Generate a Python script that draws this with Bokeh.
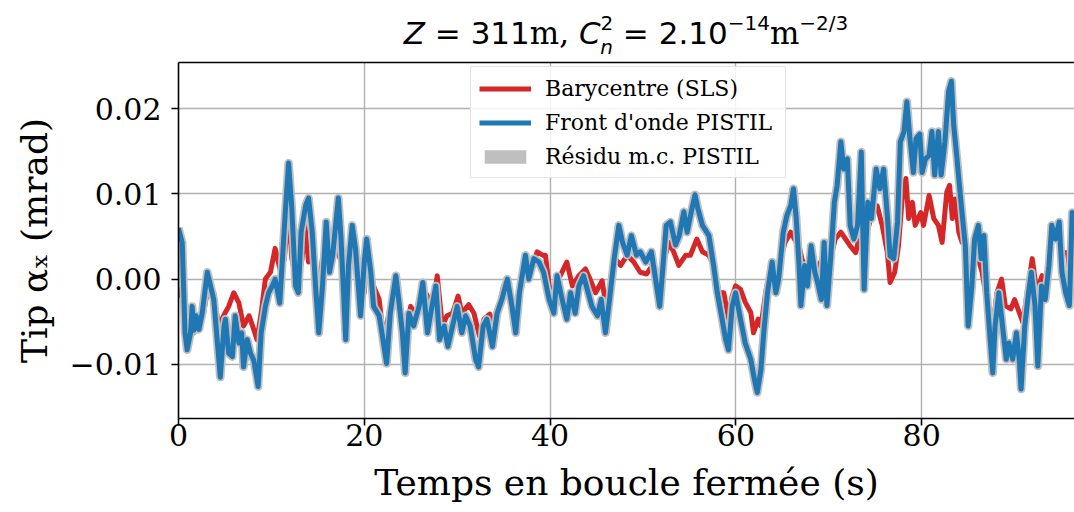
from bokeh.plotting import figure
from bokeh.models import (Range1d, FixedTicker, LinearAxis, Legend, LegendItem, Div,
                          ColumnDataSource, CustomJSTickFormatter)
from bokeh.layouts import column
from bokeh.embed import file_html
from bokeh.resources import INLINE

# ---------------- data ----------------
t_front = [0.0, 0.1, 0.4, 0.7, 0.93, 1.3, 1.47, 1.65, 1.9, 2.2, 2.55, 3.1, 3.45, 3.8, 4.16, 4.5,
           4.9, 5.05, 5.4, 5.8, 6.1, 6.5, 6.8, 7.0, 7.4, 7.75, 8.1, 8.57, 8.9, 9.35, 9.7, 10.1,
           10.4, 10.9, 11.15, 11.5, 11.85, 12.2, 12.6, 12.9, 13.2, 13.7, 14.0, 14.4, 14.75, 15.1,
           15.5, 15.9, 16.25, 16.6, 17.2, 17.5, 18.0, 18.3, 18.7, 19.05, 19.6, 20.0, 20.25, 20.7,
           21.0, 21.6, 21.9, 22.4, 22.8, 23.4, 23.7, 24.1, 24.4, 24.8, 25.3, 25.9, 26.3, 26.8,
           27.1, 27.7, 28.1, 28.6, 29.0, 29.5, 30.0, 30.5, 30.9, 31.4, 32.0, 32.3, 32.8, 33.2,
           33.8, 34.3, 34.8, 35.4, 35.9, 36.3, 36.7, 37.35, 37.7, 38.25, 38.8, 39.3, 39.9, 40.4,
           40.75, 41.3, 41.8, 42.2, 42.7, 43.1, 43.6, 44.1, 44.5, 45.1, 45.5, 45.96, 46.4, 46.9,
           47.4, 47.8, 48.3, 48.75, 49.3, 49.7, 50.3, 50.9, 51.3, 51.8, 52.1, 52.5, 52.95, 53.5,
           53.9, 54.4, 54.75, 55.2, 55.6, 55.9, 56.4, 57.1, 57.6, 58.0, 58.45, 58.9, 59.2, 59.6,
           59.96, 60.5, 61.0, 61.6, 62.0, 62.3, 62.7, 63.0, 63.4, 63.9, 64.3, 64.6, 65.1, 65.5,
           65.9, 66.2, 66.5, 66.8, 67.0, 67.4, 67.7, 68.1, 68.5, 68.8, 69.2, 69.5, 69.8, 70.2,
           70.6, 70.9, 71.3, 71.6, 72.0, 72.3, 72.7, 73.1, 73.5, 73.8, 74.2, 74.6, 75.1, 75.5,
           75.9, 76.3, 76.6, 77.0, 77.4, 77.7, 78.1, 78.4, 78.7, 79.1, 79.4, 79.8, 80.05, 80.4,
           80.8, 81.1, 81.4, 81.8, 82.1, 82.5, 82.9, 83.2, 83.45, 83.8, 84.2, 84.4, 84.7, 85.0,
           85.4, 85.7, 86.1, 86.4, 86.7, 87.0, 87.4, 87.65, 87.9, 88.3, 88.7, 89.1, 89.4, 89.8,
           90.2, 90.5, 90.7, 91.1, 91.5, 91.8, 92.2, 92.5, 92.9, 93.3, 93.7, 94.0, 94.4, 94.8,
           95.1, 95.5, 95.9, 96.2, 96.5]
front = [0.0060, 0.0055, 0.0043, -0.0063, -0.0083, -0.0063, -0.0032, -0.0060, -0.0043, -0.0059,
         -0.0040, 0.0008, -0.0008, -0.0024, -0.0071, -0.0115, -0.0055, -0.0047, -0.0087, -0.0091,
         -0.0043, -0.0075, -0.0063, -0.0103, -0.0071, -0.0087, -0.0095, -0.0126, -0.0063, -0.0032,
         -0.0016, -0.0008, 0.0000, -0.0028, 0.0016, 0.0079, 0.0136, 0.0083, -0.0008, -0.0016,
         0.0055, 0.0087, 0.0095, 0.0055, -0.0008, -0.0063, -0.0008, 0.0067, 0.0008, 0.0028,
         0.0095, 0.0047, -0.0071, 0.0016, 0.0063, 0.0036, -0.0043, 0.0020, 0.0047, 0.0008,
         -0.0032, -0.0043, -0.0063, -0.0099, -0.0040, 0.0004, -0.0024, -0.0063, -0.0110, -0.0040,
         -0.0055, -0.0032, -0.0004, -0.0063, -0.0043, -0.0008, -0.0071, -0.0055, -0.0079, -0.0055,
         -0.0032, -0.0063, -0.0043, -0.0055, -0.0095, -0.0103, -0.0055, -0.0047, -0.0079, -0.0040,
         -0.0024, 0.0000, -0.0032, -0.0063, -0.0016, 0.0028, 0.0000, 0.0024, 0.0020, 0.0008,
         -0.0024, -0.0040, 0.0004, -0.0024, -0.0047, -0.0016, -0.0040, -0.0008, 0.0004, -0.0016,
         -0.0032, -0.0043, -0.0024, -0.0063, -0.0024, 0.0024, 0.0063, 0.0043, 0.0028, 0.0051,
         0.0028, 0.0032, 0.0020, 0.0032, 0.0004, -0.0032, 0.0008, 0.0063, 0.0067, 0.0040,
         0.0051, 0.0079, 0.0055, 0.0079, 0.0099, 0.0083, 0.0063, 0.0051, 0.0016, -0.0016,
         -0.0043, -0.0071, -0.0083, -0.0032, -0.0016, -0.0047, -0.0075, -0.0094, -0.0118, -0.0133,
         -0.0106, -0.0063, -0.0016, 0.0020, -0.0016, 0.0000, 0.0055, 0.0075, 0.0086, 0.0106,
         0.0071, 0.0016, -0.0031, 0.0016, -0.0008, 0.0039, 0.0008, -0.0004, -0.0024, 0.0043,
         -0.0031, 0.0024, 0.0090, 0.0110, 0.0161, 0.0129, 0.0141, 0.0063, 0.0047, 0.0063,
         0.0149, -0.0012, 0.0090, 0.0071, 0.0129, 0.0106, 0.0129, 0.0075, 0.0027, 0.0024,
         0.0067, 0.0161, 0.0173, 0.0208, 0.0169, 0.0125, 0.0165, 0.0170, 0.0125, 0.0141,
         0.0145, 0.0173, 0.0122, 0.0173, 0.0122, 0.0161, 0.0220, 0.0232, 0.0180, 0.0141,
         0.0094, 0.0071, 0.0039, -0.0055, -0.0008, 0.0047, 0.0063, 0.0024, 0.0051, -0.0016,
         -0.0075, -0.0110, -0.0055, -0.0016, -0.0055, -0.0094, -0.0075, -0.0094, -0.0063, -0.0094,
         -0.0129, -0.0055, -0.0016, 0.0008, -0.0031, -0.0102, -0.0008, -0.0024, 0.0016, 0.0063,
         0.0047, 0.0067, 0.0008, -0.0016, -0.0031, 0.0078, 0.0071]

t_bary = [0.0, 0.3, 0.6, 0.9, 1.3, 1.65, 2.2, 2.7, 3.26, 3.8, 4.3, 5.0, 5.4, 5.95, 6.5, 7.0,
          7.6, 8.1, 8.45, 8.9, 9.35, 9.9, 10.4, 11.0, 11.4, 11.85, 12.2, 12.8, 13.3, 13.6, 14.0,
          14.4, 14.9, 15.5, 16.2, 16.8, 17.25, 18.0, 18.5, 19.05, 19.6, 20.0, 20.3, 21.0, 21.6,
          22.1, 22.6, 23.4, 23.9, 24.4, 25.0, 25.5, 26.2, 27.0, 27.4, 27.85, 28.4, 28.9, 29.5,
          30.1, 30.5, 31.25, 31.8, 32.4, 32.9, 33.5, 33.95, 34.5, 35.0, 35.7, 36.4, 36.8, 37.5,
          37.9, 38.6, 39.2, 39.5, 40.0, 40.5, 41.1, 41.8, 42.4, 43.1, 43.8, 44.3, 44.9, 45.6,
          45.96, 46.5, 47.0, 47.6, 48.3, 49.0, 49.7, 50.4, 51.0, 51.7, 52.2, 52.8, 53.3, 53.85,
          54.6, 55.1, 55.8, 56.4, 57.1, 57.6, 58.2, 58.7, 59.2, 59.6, 59.96, 60.5, 61.0, 61.6,
          61.9, 62.4, 62.7, 63.2, 63.7, 64.3, 64.8, 65.3, 65.9, 66.3, 66.8, 67.1, 67.7, 68.2,
          68.75, 69.3, 70.0, 70.7, 71.3, 71.8, 72.3, 72.9, 73.4, 73.95, 74.5, 75.2, 75.75, 76.3,
          76.6, 77.1, 77.5, 77.9, 78.3, 78.6, 79.0, 79.3, 79.9, 80.2, 80.8, 81.3, 81.8, 82.2,
          82.7, 83.0, 83.3, 83.6, 84.0, 84.35, 84.7, 85.1, 85.6, 86.2, 86.5, 87.0, 87.6, 88.1,
          88.6, 89.0, 89.6, 90.0, 90.5, 90.9, 91.35, 91.9, 92.4, 92.95, 93.5, 94.0, 94.7, 95.1,
          95.7, 96.2, 96.5]
bary = [-0.0010, -0.0020, -0.0024, -0.0040, -0.0032, -0.0063, -0.0055, -0.0040, -0.0004, -0.0016,
        -0.0055, -0.0040, -0.0032, -0.0016, -0.0028, -0.0055, -0.0043, -0.0059, -0.0071, -0.0040,
        0.0000, 0.0008, 0.0036, 0.0008, 0.0024, 0.0083, 0.0024, -0.0008, 0.0024, 0.0063, 0.0020,
        0.0047, -0.0024, 0.0024, 0.0032, 0.0036, 0.0028, 0.0008, 0.0016, 0.0016, -0.0008,
        -0.0016, 0.0036, -0.0008, -0.0024, -0.0071, -0.0043, 0.0000, -0.0040, -0.0063, -0.0032,
        -0.0043, -0.0008, -0.0024, -0.0032, 0.0004, -0.0055, -0.0043, -0.0040, -0.0020, -0.0040,
        -0.0030, -0.0040, -0.0067, -0.0047, -0.0041, -0.0055, -0.0032, -0.0008, -0.0016, -0.0040,
        -0.0016, 0.0016, 0.0008, 0.0032, 0.0028, 0.0028, -0.0016, -0.0008, 0.0004, 0.0020,
        -0.0008, 0.0004, 0.0012, 0.0000, -0.0016, -0.0002, -0.0028, -0.0008, 0.0024, 0.0016,
        0.0028, 0.0020, 0.0008, 0.0006, 0.0016, -0.0008, 0.0020, 0.0043, 0.0032, 0.0016,
        0.0028, 0.0028, 0.0047, 0.0032, 0.0028, 0.0016, -0.0016, -0.0016, -0.0047, -0.0020,
        -0.0008, -0.0012, -0.0027, -0.0039, -0.0063, -0.0047, -0.0055, -0.0016, 0.0012, 0.0008,
        0.0024, 0.0043, 0.0055, 0.0047, 0.0039, 0.0024, 0.0008, 0.0016, 0.0012, 0.0024,
        0.0016, 0.0047, 0.0055, 0.0047, 0.0039, 0.0031, 0.0055, 0.0047, 0.0071, 0.0086,
        0.0063, 0.0031, -0.0004, 0.0008, 0.0039, 0.0094, 0.0118, 0.0071, 0.0090, 0.0063,
        0.0078, 0.0063, 0.0098, 0.0071, 0.0063, 0.0043, 0.0102, 0.0110, 0.0071, 0.0094,
        0.0055, 0.0043, 0.0047, -0.0008, 0.0031, 0.0020, 0.0008, -0.0024, -0.0063, -0.0016,
        0.0000, -0.0031, -0.0035, -0.0024, -0.0039, -0.0051, -0.0016, 0.0024, -0.0016, 0.0004,
        -0.0008, 0.0055, 0.0067, 0.0031, 0.0031, -0.0016, 0.0016]

x_ticks = [0, 20, 40, 60, 80]
y_ticks = [-0.01, 0.0, 0.01, 0.02]
y_tick_labels = ["\u22120.01", "0.00", "0.01", "0.02"]
series_names = ["Barycentre (SLS)", "Front d'onde PISTIL", "R\u00e9sidu m.c. PISTIL"]
x_label = "Temps en boucle ferm\u00e9e (s)"
y_label = "Tip \u03b1\u2093 (mrad)"

# ---------------- styling ----------------
RED = "#d62728"
BLUE = "#1f77b4"
GREY = "#bfbfbf"
SERIF = "DejaVu Serif"
SANS = "DejaVu Sans"

# title (HTML, with italics, sub- and superscripts)
sup = "font-size:20px;vertical-align:14px;line-height:0;"
sub = "font-size:20px;vertical-align:-10px;line-height:0;margin-left:-13px;"
serif_span = "font-family:'DejaVu Serif';"
title_html = (
    '<div style="width:896px;margin-left:178px;padding-top:15px;text-align:center;'
    "font-family:'DejaVu Sans';font-size:31px;line-height:36px;color:black;white-space:nowrap;\">"
    '<i>Z</i> = 311<span style="' + serif_span + '">m,</span> '
    '<i>C</i><sup style="' + sup + '">2</sup><sub style="' + sub + '"><i>n</i></sub>'
    ' = 2.10<sup style="' + sup + '">\u221214</sup>'
    '<span style="' + serif_span + '">m</span><sup style="' + sup + '">\u22122/3</sup>'
    '</div>'
)
title_div = Div(text=title_html, width=1074, height=54, margin=(0, 0, 0, 0))

fig = figure(width=1074, height=458, output_backend="svg", toolbar_location=None,
             x_range=Range1d(0, 96.45), y_range=Range1d(-0.01635, 0.0254),
             min_border_left=178, min_border_right=0, min_border_top=8, min_border_bottom=94,
             x_axis_label=x_label, y_axis_label=y_label, margin=(0, 0, 0, 0))
fig.outline_line_color = None
fig.background_fill_color = "white"
fig.border_fill_color = "white"

src_f = ColumnDataSource(dict(t=t_front, v=front, v0=front))
src_b = ColumnDataSource(dict(t=t_bary, v=bary))

r_red = fig.line("t", "v", source=src_b, line_color=RED, line_width=5, line_join="round")
r_grey_band = fig.varea(x="t", y1="v", y2="v0", source=src_f, fill_color=GREY)
r_grey = fig.line("t", "v", source=src_f, line_color=GREY, line_width=8.5, line_join="round")
r_blue = fig.line("t", "v", source=src_f, line_color=BLUE, line_width=5, line_join="round")

# axes
xa = fig.xaxis[0]
ya = fig.yaxis[0]
xa.ticker = FixedTicker(ticks=x_ticks)
ya.ticker = FixedTicker(ticks=y_ticks)
ya.formatter = CustomJSTickFormatter(args=dict(tvals=y_ticks, tlabels=y_tick_labels), code="""
    for (let i = 0; i < tvals.length; i++) { if (Math.abs(tvals[i] - tick) < 1e-9) return tlabels[i]; }
    return '';
""")
for ax in (xa, ya):
    ax.axis_line_width = 1.6
    ax.axis_line_color = "black"
    ax.major_tick_line_width = 1.6
    ax.major_tick_line_color = "black"
    ax.major_tick_out = 7
    ax.major_tick_in = 0
    ax.minor_tick_line_color = None
    ax.major_label_text_font = SERIF
    ax.major_label_text_font_size = "30px"
    ax.major_label_text_color = "black"
    ax.axis_label_text_font = SERIF
    ax.axis_label_text_font_size = "36px"
    ax.axis_label_text_font_style = "normal"
    ax.axis_label_text_color = "black"
xa.major_label_standoff = -2
xa.axis_label_standoff = 13
ya.major_label_standoff = 10
ya.axis_label_standoff = 12

top_axis = LinearAxis(ticker=FixedTicker(ticks=[]), axis_line_width=1.6, axis_line_color="black",
                      major_tick_line_color=None, minor_tick_line_color=None,
                      major_label_text_font_size="0px")
fig.add_layout(top_axis, "above")

fig.xgrid.grid_line_color = "#b0b0b0"
fig.ygrid.grid_line_color = "#b0b0b0"
fig.xgrid.grid_line_width = 1.4
fig.ygrid.grid_line_width = 1.4

legend = Legend(items=[LegendItem(label=series_names[0], renderers=[r_red]),
                       LegendItem(label=series_names[1], renderers=[r_blue]),
                       LegendItem(label=series_names[2], renderers=[r_grey_band])],
                location=(292, 240))
legend.label_text_font = SERIF
legend.label_text_font_size = "22px"
legend.label_text_color = "black"
legend.glyph_width = 52
legend.glyph_height = 17
legend.label_height = 26
legend.label_width = 232
legend.label_standoff = 14
legend.spacing = 8
legend.padding = 8
legend.margin = 0
legend.border_line_color = "#cccccc"
legend.border_line_width = 1.2
legend.background_fill_alpha = 0.85
fig.add_layout(legend)

p = column(title_div, fig, spacing=0, margin=(0, 0, 0, 0))

open("out.html", "w").write(file_html(p, INLINE))
